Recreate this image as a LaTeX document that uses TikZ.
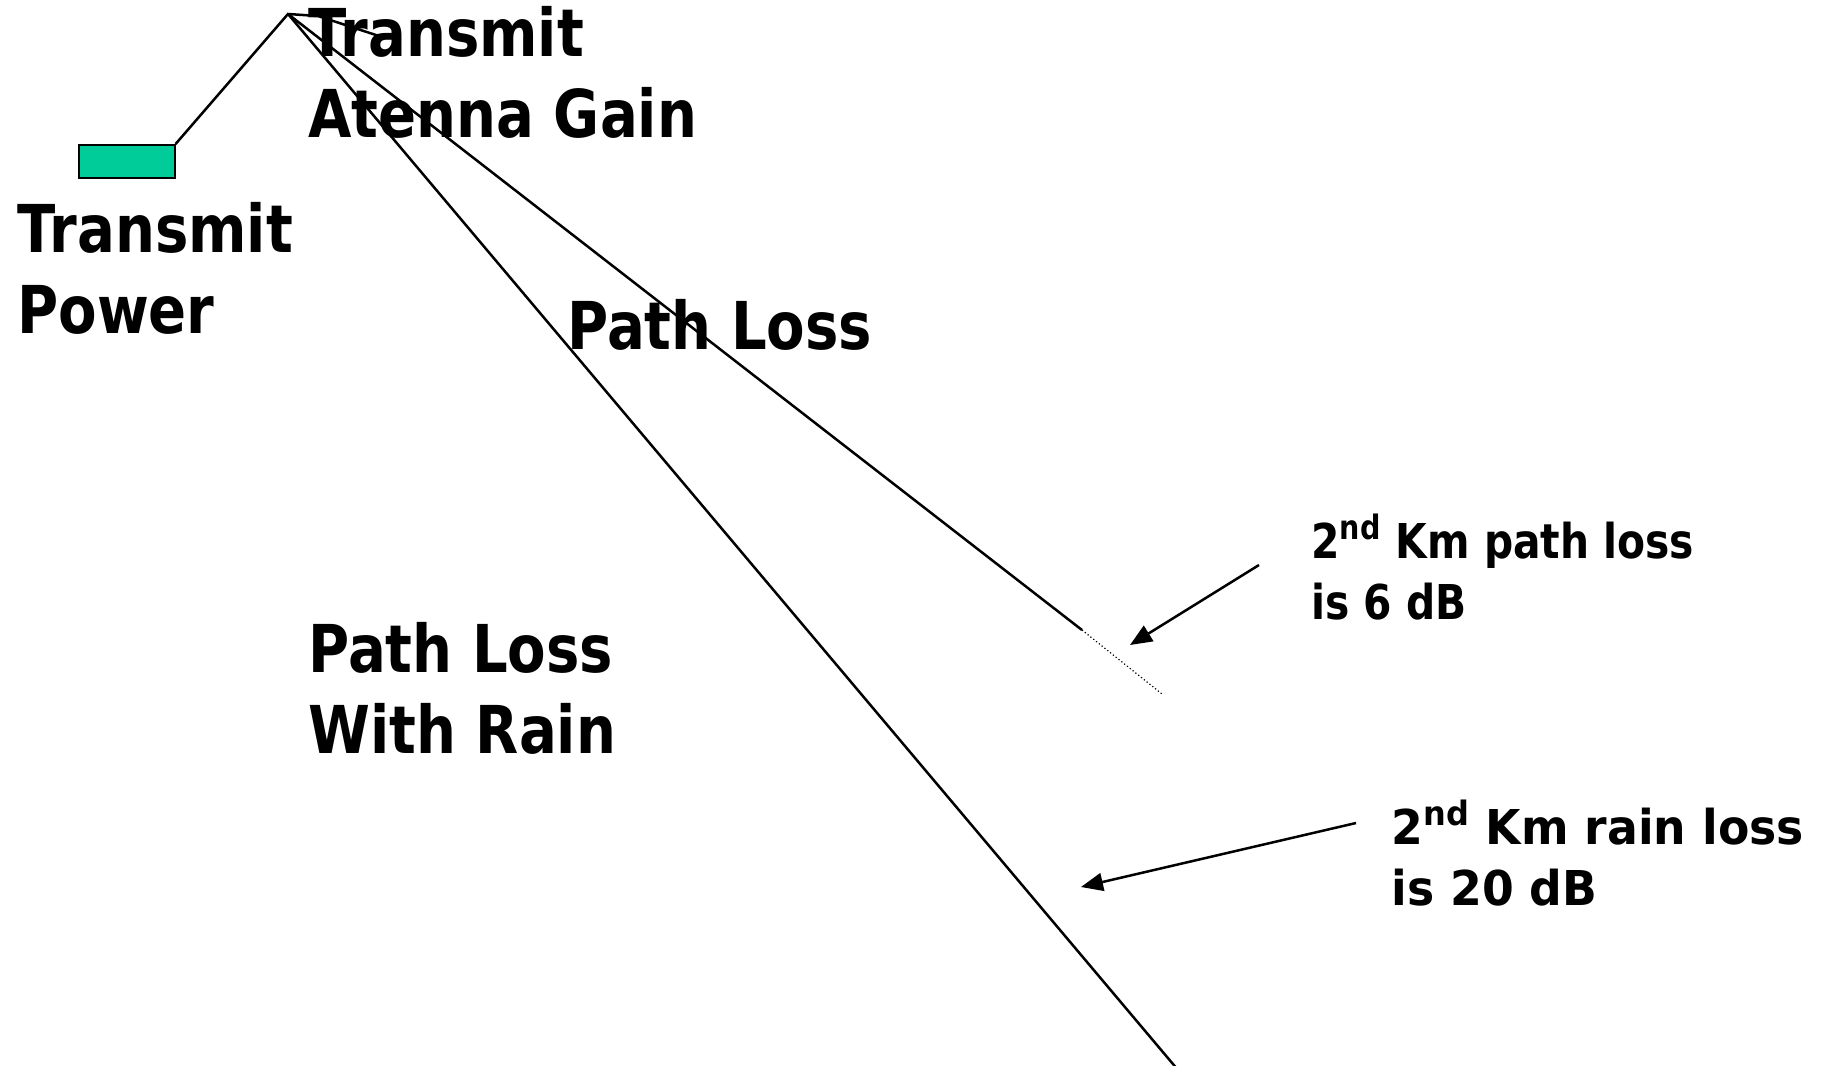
\documentclass[tikz,border=0pt]{standalone}
\usepackage{fontspec}
\setmainfont{DejaVu Sans}[FakeStretch=0.85]
\usetikzlibrary{arrows.meta}
\definecolor{boxgreen}{HTML}{00CC99}
\newcommand{\ordsup}[1]{\textsuperscript{#1}}
\begin{document}
\begin{tikzpicture}[x=0.5pt,y=-0.5pt,
  line/.style={line width=1.25pt,line join=miter},
  biglabel/.style={anchor=base west,inner sep=0pt,align=left,font=\fontsize{33pt}{40.5pt}\selectfont\bfseries},
  smalllabel/.style={anchor=base west,inner sep=0pt,align=left,font=\fontsize{24pt}{30.5pt}\selectfont\bfseries},
  pointer/.style={line width=1.25pt,-{Triangle[length=11pt,width=9pt]}}]
\useasboundingbox (0,0) rectangle (1822,1066);
% transmitter box
\node[draw=black,line width=0.8pt,fill=boxgreen,minimum width=48pt,minimum height=16.5pt,inner sep=0pt,anchor=north west] (tx) at (78,144) {};
% points
\coordinate (apex) at (288,14);
\coordinate (ant1) at (318,16);
\coordinate (ant2) at (385,38);
\coordinate (plend) at (1082,630);
\coordinate (pldot) at (1162,694);
\coordinate (rainend) at (1178,1070);
\coordinate (a1s) at (1259,565);
\coordinate (a1e) at (1130,645);
\coordinate (a2s) at (1356,823);
\coordinate (a2e) at (1081,887);
% lines
\draw[line] (tx.north east) -- (apex) -- (ant1) -- (ant2);
\draw[line] (apex) -- (plend);
\draw[line width=0.6pt,dash pattern=on 0.6pt off 1.2pt] (plend) -- (pldot);
\draw[line] (apex) -- (rainend);
\draw[pointer] (a1s) -- (a1e);
\draw[pointer] (a2s) -- (a2e);
% labels (base anchor = baseline of last line)
\node[biglabel] (tag) at (308,137) {Transmit\\Atenna Gain};
\node[biglabel] (tpw) at (17,333) {Transmit\\Power};
\node[biglabel] (pl) at (567,349) {Path Loss};
\node[biglabel] (plr) at (308,753) {Path Loss\\With Rain};
\node[smalllabel] (n1) at (1311,619) {2\ordsup{nd} Km path loss\\is 6 dB};
\node[smalllabel,xscale=1.12,transform shape] (n2) at (1391,905) {2\ordsup{nd} Km rain loss\\is 20 dB};
\end{tikzpicture}
\end{document}
